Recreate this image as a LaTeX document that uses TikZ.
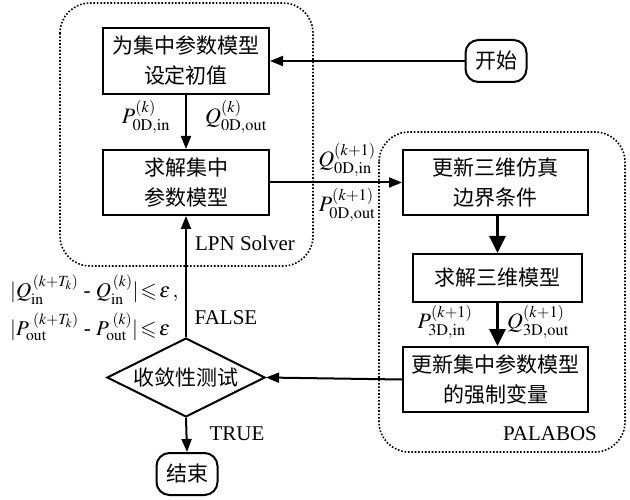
\documentclass[tikz,border=0pt]{standalone}
\usepackage{amsmath,amssymb}
\usepackage{mathptmx}
\usepackage[no-math]{fontspec}
\setmainfont{Liberation Serif}
\newfontfamily\cjk{Noto Sans CJK SC}
\usetikzlibrary{arrows.meta,shapes.geometric}
\begin{document}
\begin{tikzpicture}[x=1pt,y=-1pt,
  every node/.style={font=\fontsize{21}{30}\selectfont},
  stepbox/.style={draw,line width=2pt,align=center,inner sep=0pt,font=\cjk\fontsize{21}{30}\selectfont},
  term/.style={draw,line width=2pt,rounded corners=13pt,inner sep=0pt,minimum width=61pt,minimum height=42pt,font=\cjk\fontsize{21}{30}\selectfont},
  decide/.style={draw,line width=2pt,diamond,aspect=2,inner sep=0pt,minimum width=158pt,minimum height=79pt,font=\cjk\fontsize{21}{30}\selectfont},
  arr/.style={line width=2pt,-{Triangle[length=13pt,width=10pt]}},
  thickarr/.style={line width=3.2pt,-{Triangle[length=17pt,width=16pt]}},
  region/.style={line width=1.6pt,dash pattern=on 1.6pt off 1.8pt,rounded corners=30pt},
  lbl/.style={inner sep=0pt,font=\fontsize{22}{26}\selectfont}]
\useasboundingbox (0,0) rectangle (630,500);
% regions
\draw[region] (60,3) rectangle (313,266);
\draw[region] (379,132) rectangle (625,452);
% nodes
\node[stepbox,minimum width=166pt,minimum height=66pt] (b1) at (186,61) {为集中参数模型\\设定初值};
\node[stepbox,minimum width=166pt,minimum height=65pt] (b2) at (186,182.5) {求解集中\\参数模型};
\node[stepbox,minimum width=185pt,minimum height=65pt] (b3) at (495.5,182.5) {更新三维仿真\\边界条件};
\node[stepbox,minimum width=169pt,minimum height=48pt] (b4) at (497.5,278) {求解三维模型};
\node[stepbox,minimum width=185pt,minimum height=65pt] (b5) at (495.5,379.5) {更新集中参数模型\\的强制变量};
\node[decide] (d) at (186,377.5) {收敛性测试};
\node[term] (start) at (496,61) {开始};
\node[term] (end) at (187,474) {结束};
% connectors
\draw[arr] (start) -- (b1);
\draw[arr] (b1) -- (b2);
\draw[arr] (b2.east) -- (b3.west);
\draw[thickarr] (b3.south -| b4) -- (b4);
\draw[thickarr] (b4.south) -- (b5.north -| b4.south);
\draw[arr] (b5.west) -- (d.east);
\draw[arr] (d.north) -- (b2.south);
\draw[arr] (d.south) -- (end.north);
% labels
\node[lbl] (l1) at (146,117) {$P^{(k)}_{\mathrm{0D,in}}$};
\node[lbl] (l2) at (236,117) {$Q^{(k)}_{\mathrm{0D,out}}$};
\node[lbl] (l3) at (347,160) {$Q^{(k+1)}_{\mathrm{0D,in}}$};
\node[lbl] (l4) at (347,205) {$P^{(k+1)}_{\mathrm{0D,out}}$};
\node[lbl] (l5) at (445,322) {$P^{(k+1)}_{\mathrm{3D,in}}$};
\node[lbl] (l6) at (538,322) {$Q^{(k+1)}_{\mathrm{3D,out}}$};
\node[lbl,font=\fontsize{21}{26}\selectfont] (lpn) at (245,243) {LPN Solver};
\node[lbl,font=\fontsize{21}{26}\selectfont] (fa) at (226,318) {FALSE};
\node[lbl,font=\fontsize{21}{26}\selectfont] (tr) at (237,434) {TRUE};
\node[lbl,font=\fontsize{21}{26}\selectfont] (pal) at (550,434) {PALABOS};
\node[lbl,align=left,anchor=west,font=\fontsize{21}{38}\selectfont] (f) at (10,308)
  {$|Q^{\mkern2mu(k+T_k)}_{\mathrm{in}}\text{ - }Q^{\mkern2mu(k)}_{\mathrm{in}}|\mkern2mu{\leqslant}\,\varepsilon\mkern2mu,$\\
   $|P^{\mkern5mu(k+T_k)}_{\mathrm{out}}\text{ - }P^{\mkern4mu(k)}_{\mathrm{out}}|\mkern2mu{\leqslant}\,\varepsilon$};
\end{tikzpicture}
\end{document}
